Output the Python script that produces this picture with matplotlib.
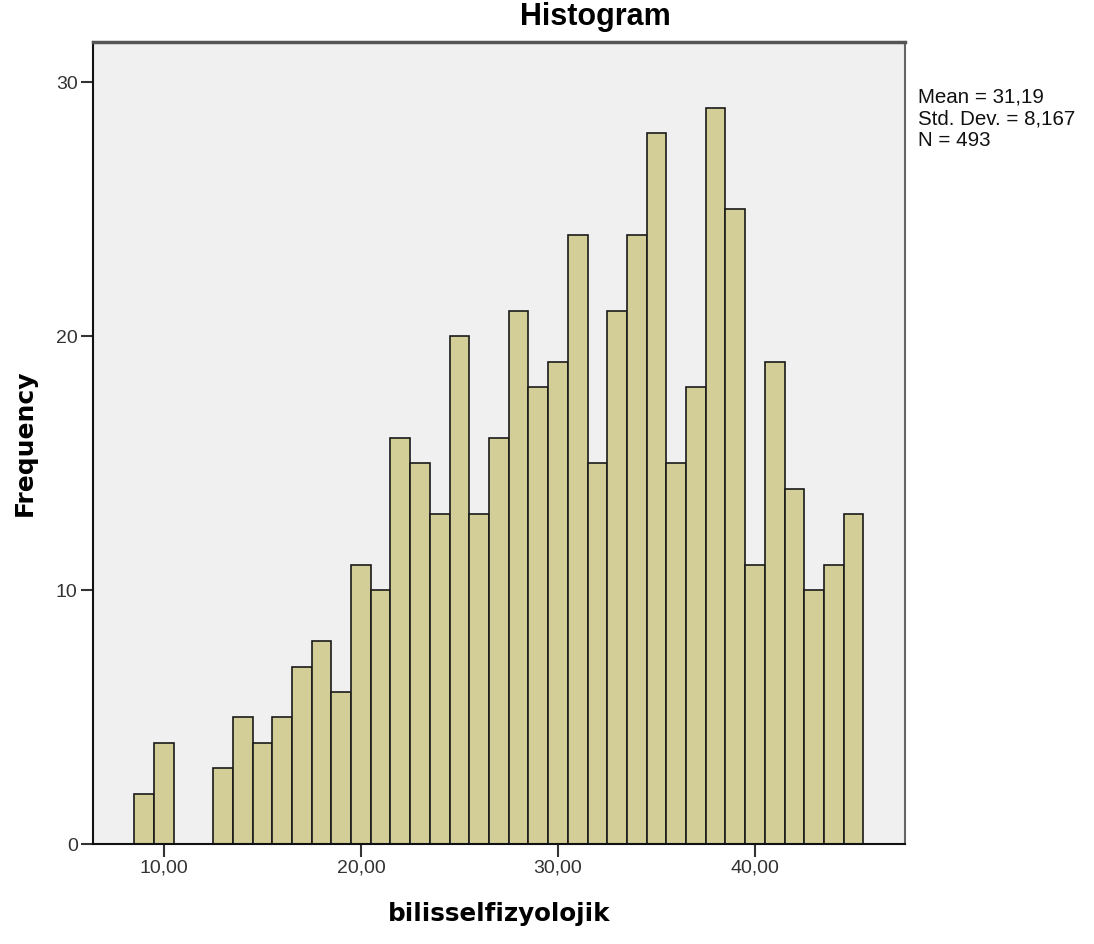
import numpy as np
import matplotlib
matplotlib.use('Agg')
import matplotlib.pyplot as plt

plt.rcParams['font.family'] = ['Liberation Sans', 'DejaVu Sans']

# histogram data (bin centers, counts)
bin_centers = [9, 10, 11, 12, 13, 14, 15, 16, 17, 18, 19, 20, 21, 22, 23, 24, 25,
               26, 27, 28, 29, 30, 31, 32, 33, 34, 35, 36, 37, 38, 39, 40, 41,
               42, 43, 44, 45]
counts = [2, 4, 0, 0, 3, 5, 4, 5, 7, 8, 6, 11, 10, 16, 15, 13, 20,
          13, 16, 21, 18, 19, 24, 15, 21, 24, 28, 15, 18, 29, 25, 11, 19,
          14, 10, 11, 13]
x_ticks = [10, 20, 30, 40]
x_tick_labels = ['10,00', '20,00', '30,00', '40,00']
y_ticks = [0, 10, 20, 30]
stats_text = "Mean = 31,19\nStd. Dev. = 8,167\nN = 493"

fig = plt.figure(figsize=(10.94, 9.44), dpi=100)
ax = fig.add_axes([0.085, 0.1056, 0.742, 0.8502])
ax.set_facecolor('#F0F0F0')

ax.bar(bin_centers, counts, width=1.0, color='#D3CE97', edgecolor='#1a1a1a',
       linewidth=1.2)

ax.set_xlim(6.4, 47.6)
ax.set_ylim(0, 31.6)
ax.set_xticks(x_ticks)
ax.set_xticklabels(x_tick_labels)
ax.set_yticks(y_ticks)
ax.tick_params(axis='both', labelsize=14, color='#333333', length=9, width=1.5,
               labelcolor='#333333')
ax.tick_params(axis='x', pad=2)
ax.tick_params(axis='y', pad=2)

for side in ['left', 'bottom']:
    ax.spines[side].set_color('#111111')
    ax.spines[side].set_linewidth(1.5)
ax.spines['top'].set_color('#555555')
ax.spines['top'].set_linewidth(2.5)
ax.spines['right'].set_color('#666666')
ax.spines['right'].set_linewidth(1.5)

fig.text(0.544, 0.982, 'Histogram', fontsize=22, fontweight='bold',
         ha='center', va='center')
ax.set_xlabel('bilisselfizyolojik', fontsize=17.7, fontweight='bold',
              family='DejaVu Sans', labelpad=18)
ax.set_ylabel('Frequency', fontsize=18, fontweight='bold',
              family='DejaVu Sans', labelpad=14)

fig.text(0.839, 0.907, stats_text, fontsize=14.8, va='top', ha='left',
         linespacing=1.16, color='#111111')

fig.savefig('out.png', dpi=100)
